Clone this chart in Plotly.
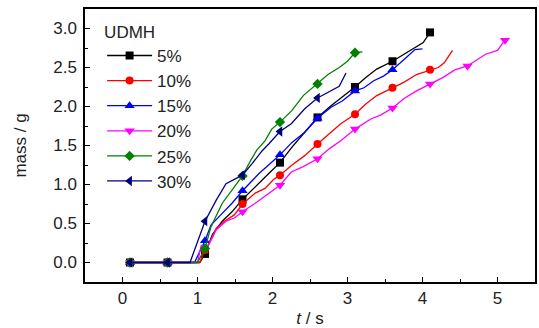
import plotly.graph_objects as go

# ---- data (t in s, mass in g) ----
labels = ["5%", "10%", "15%", "20%", "25%", "30%"]
colors = ["#000000", "#FF0000", "#0000FF", "#FF00FF", "#008000", "#000080"]
symbols = ["square", "circle", "triangle-up", "triangle-down", "diamond", "triangle-left"]

t_5 = [0.1, 0.6, 1.03, 1.1, 1.2, 1.33, 1.46, 1.6, 1.82, 1.95, 2.1, 2.26, 2.43, 2.6, 2.78, 2.93, 3.1, 3.24, 3.39, 3.6, 3.75, 3.88, 4.01, 4.1]
m_5 = [0, 0, 0, 0.11, 0.36, 0.53, 0.65, 0.81, 1.01, 1.14, 1.28, 1.48, 1.67, 1.86, 2.01, 2.12, 2.25, 2.37, 2.48, 2.58, 2.67, 2.74, 2.82, 2.95]

t_10 = [0.1, 0.6, 1.03, 1.1, 1.18, 1.25, 1.36, 1.49, 1.6, 1.77, 1.9, 2.01, 2.1, 2.26, 2.43, 2.6, 2.76, 2.91, 3.1, 3.24, 3.39, 3.6, 3.75, 3.92, 4.1, 4.21, 4.29, 4.4]
m_10 = [0, 0, 0, 0.16, 0.29, 0.44, 0.53, 0.61, 0.75, 0.89, 0.95, 1.06, 1.12, 1.25, 1.37, 1.52, 1.65, 1.78, 1.90, 2.03, 2.14, 2.24, 2.31, 2.41, 2.47, 2.50, 2.56, 2.72]

t_15 = [0.1, 0.6, 0.96, 1.1, 1.18, 1.31, 1.46, 1.6, 1.82, 1.97, 2.1, 2.26, 2.43, 2.6, 2.78, 2.93, 3.1, 3.22, 3.35, 3.48, 3.6, 3.75, 3.9, 4.0]
m_15 = [0, 0, 0, 0.28, 0.48, 0.61, 0.76, 0.92, 1.14, 1.27, 1.38, 1.54, 1.67, 1.85, 1.99, 2.07, 2.20, 2.24, 2.33, 2.39, 2.47, 2.60, 2.73, 2.74]

t_20 = [0.1, 0.6, 1.0, 1.05, 1.14, 1.25, 1.38, 1.49, 1.6, 1.77, 1.92, 2.1, 2.25, 2.41, 2.6, 2.76, 2.91, 3.1, 3.31, 3.44, 3.6, 3.75, 3.92, 4.1, 4.27, 4.43, 4.6, 4.84, 5.0, 5.1]
m_20 = [0, 0, 0, 0.22, 0.21, 0.42, 0.53, 0.57, 0.65, 0.76, 0.87, 0.99, 1.16, 1.23, 1.33, 1.46, 1.56, 1.71, 1.84, 1.89, 1.98, 2.10, 2.20, 2.29, 2.37, 2.47, 2.52, 2.67, 2.72, 2.85]

t_25 = [0.1, 0.6, 1.0, 1.1, 1.18, 1.33, 1.49, 1.6, 1.71, 1.79, 1.9, 1.99, 2.1, 2.26, 2.41, 2.6, 2.74, 2.89, 3.0, 3.1, 3.2]
m_25 = [0, 0, 0, 0.18, 0.46, 0.76, 0.97, 1.11, 1.31, 1.44, 1.56, 1.71, 1.80, 1.95, 2.14, 2.29, 2.41, 2.50, 2.58, 2.69, 2.70]

t_30 = [0.1, 0.6, 0.9, 1.1, 1.25, 1.38, 1.6, 1.73, 1.86, 1.95, 2.1, 2.25, 2.43, 2.6, 2.78, 2.89, 2.98]
m_30 = [0, 0, 0, 0.53, 0.80, 1.01, 1.12, 1.27, 1.43, 1.52, 1.68, 1.78, 1.97, 2.11, 2.20, 2.26, 2.43]

marker_times = [0.1, 0.6, 1.1, 1.6, 2.1, 2.6, 3.1, 3.6, 4.1, 4.6, 5.1]

series_t = [t_5, t_10, t_15, t_20, t_25, t_30]
series_m = [m_5, m_10, m_15, m_20, m_25, m_30]

FONT = "Liberation Sans, Arial, sans-serif"
FS = 17
TXT = "#222"

fig = go.Figure()
for lab, col, sym, ts, ms in zip(labels, colors, symbols, series_t, series_m):
    fig.add_trace(go.Scatter(x=ts, y=ms, mode="lines", line=dict(color=col, width=1.3),
                             showlegend=False, hoverinfo="skip"))
    mx = [t for t in ts if any(abs(t - mt) < 1e-9 for mt in marker_times)]
    my = [m for t, m in zip(ts, ms) if any(abs(t - mt) < 1e-9 for mt in marker_times)]
    sz = 8 if sym in ("square", "circle", "diamond") else 9
    fig.add_trace(go.Scatter(x=mx, y=my, mode="markers",
                             marker=dict(color=col, symbol=sym, size=sz, line=dict(width=0)),
                             showlegend=False))
for lab, col, sym in zip(labels, colors, symbols):
    sz = 8 if sym in ("square", "circle", "diamond") else 9
    fig.add_trace(go.Scatter(x=[None], y=[None], mode="lines+markers", name=lab,
                             line=dict(color=col, width=1.3),
                             marker=dict(color=col, symbol=sym, size=sz)))

axis_common = dict(showline=True, linecolor="black", linewidth=1.5, mirror=True,
                   ticks="inside", ticklen=5, tickwidth=1.2, tickcolor="black",
                   showgrid=False, zeroline=False,
                   tickfont=dict(family=FONT, size=FS, color=TXT))

fig.update_xaxes(range=[-0.5, 5.5], tickvals=[0, 1, 2, 3, 4, 5],
                 minor=dict(dtick=0.5, tick0=0, ticks="inside", ticklen=3, tickcolor="black"),
                 title=dict(text="<i>t</i> / s", font=dict(family=FONT, size=FS, color=TXT), standoff=6),
                 **axis_common)
fig.update_yaxes(range=[-0.25, 3.25], tickvals=[0, 0.5, 1, 1.5, 2, 2.5, 3], ticktext=["0.0", "0.5", "1.0", "1.5", "2.0", "2.5", "3.0"],
                 minor=dict(dtick=0.25, tick0=0, ticks="inside", ticklen=3, tickcolor="black"),
                 ticklabelstandoff=3,
                 title=dict(text="mass / g", font=dict(family=FONT, size=FS, color=TXT), standoff=22),
                 **axis_common)

fig.update_layout(
    width=539, height=328,
    margin=dict(l=85, r=2, t=9, b=46),
    paper_bgcolor="white", plot_bgcolor="white",
    legend=dict(x=0.038, y=0.975, xanchor="left", yanchor="top",
                title=dict(text="UDMH", font=dict(family=FONT, size=FS, color=TXT)),
                font=dict(family=FONT, size=FS, color=TXT),
                bgcolor="rgba(0,0,0,0)", tracegroupgap=0, itemwidth=45),
)

fig.write_html("out.html")
